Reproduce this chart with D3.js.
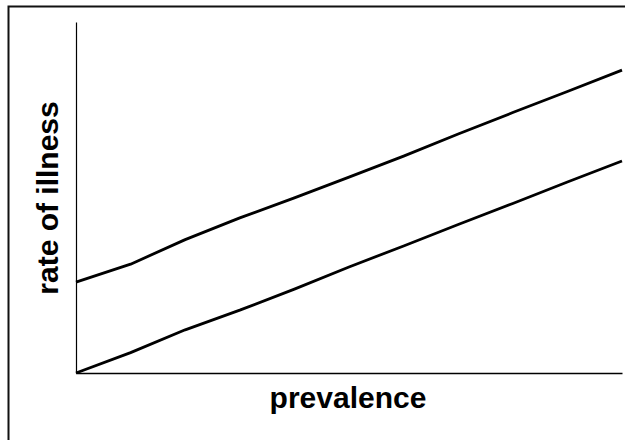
<!DOCTYPE html>
<html>
<head>
<meta charset="utf-8">
<script src="https://cdn.jsdelivr.net/npm/d3@7"></script>
<style>
  html, body { margin: 0; padding: 0; background: #fff; }
  svg { display: block; }
</style>
</head>
<body>
<div id="chart"></div>
<script>
// prevalence steps along the x axis
const prevalence = [0, 1, 2, 3, 4, 5, 6, 7, 8, 9, 10];
// rate of illness, upper and lower lines
const upperRate = [25.9, 31.0, 38.0, 44.2, 49.9, 55.8, 61.8, 68.1, 74.2, 80.2, 86.3];
const lowerRate = [0, 5.8, 12.3, 17.9, 23.9, 30.2, 36.2, 42.3, 48.3, 54.4, 60.4];
const xLabel = "prevalence";
const yLabel = "rate of illness";

const W = 625, H = 440;
const margin = { top: 22, right: 3, bottom: 67, left: 76 };

const svg = d3.select("#chart").append("svg")
    .attr("width", W)
    .attr("height", H);

// outer frame, cut off on the right and bottom like the original
svg.append("rect")
    .attr("x", 8.5).attr("y", 6.5)
    .attr("width", 700).attr("height", 500)
    .attr("fill", "none")
    .attr("stroke", "#111")
    .attr("stroke-width", 2);

const x = d3.scaleLinear()
    .domain([0, 10])
    .range([margin.left, W - margin.right]);

const y = d3.scaleLinear()
    .domain([0, 100])
    .range([H - margin.bottom, margin.top]);

svg.append("g")
    .attr("transform", `translate(0,${H - margin.bottom})`)
    .call(d3.axisBottom(x).tickValues([]).tickSizeOuter(0))
    .call(g => g.select(".domain").attr("stroke", "#000").attr("stroke-width", 1.5));

svg.append("g")
    .attr("transform", `translate(${margin.left},0)`)
    .call(d3.axisLeft(y).tickValues([]).tickSizeOuter(0))
    .call(g => g.select(".domain").attr("stroke", "#000").attr("stroke-width", 1.2));

const line = d3.line()
    .x((d, i) => x(prevalence[i]))
    .y(d => y(d));

[upperRate, lowerRate].forEach(series => {
    svg.append("path")
        .datum(series)
        .attr("fill", "none")
        .attr("stroke", "#000")
        .attr("stroke-width", 2.8)
        .attr("stroke-linejoin", "round")
        .attr("d", line);
});

svg.append("text")
    .attr("x", 348)
    .attr("y", 408)
    .attr("text-anchor", "middle")
    .attr("font-family", "Liberation Sans, Arial, sans-serif")
    .attr("font-weight", "bold")
    .attr("font-size", 30)
    .text(xLabel);

svg.append("text")
    .attr("transform", "translate(58,198) rotate(-90)")
    .attr("text-anchor", "middle")
    .attr("font-family", "Liberation Sans, Arial, sans-serif")
    .attr("font-weight", "bold")
    .attr("font-size", 30)
    .text(yLabel);
</script>
</body>
</html>
